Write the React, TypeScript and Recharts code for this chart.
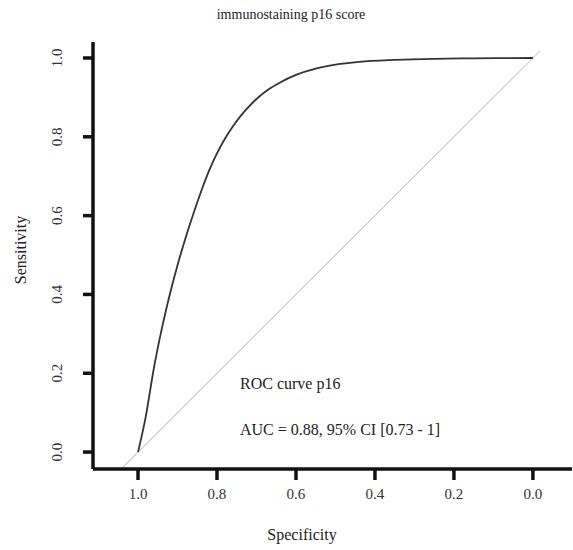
import React from "react";
import {
  LineChart,
  Line,
  XAxis,
  YAxis,
  ReferenceLine,
  Customized,
} from "recharts";

// ROC curve points (specificity descending)
const specificity = [1.0, 0.98, 0.96, 0.94, 0.92, 0.9, 0.88, 0.86, 0.84, 0.82, 0.8, 0.78, 0.76, 0.74, 0.72, 0.7, 0.67, 0.64, 0.6, 0.55, 0.5, 0.44, 0.35, 0.25, 0.15, 0.0];
const sensitivity = [0, 0.092, 0.212, 0.312, 0.398, 0.474, 0.542, 0.604, 0.662, 0.714, 0.758, 0.795, 0.826, 0.853, 0.876, 0.896, 0.92, 0.938, 0.957, 0.973, 0.983, 0.99, 0.995, 0.998, 0.999, 1.0];

const xTicks = [1.0, 0.8, 0.6, 0.4, 0.2, 0.0];
const yTicks = [0.0, 0.2, 0.4, 0.6, 0.8, 1.0];

const title = "immunostaining p16 score";
const curveLabel = "ROC curve p16";
const aucLabel = "AUC = 0.88, 95% CI [0.73 - 1]";

const data = specificity.map((s, i) => ({ spec: s, sens: sensitivity[i] }));

const FONT = "'Liberation Serif', serif";
const INK = "#111";

const XTick = (props: any) => {
  const { x, y, payload } = props;
  return (
    <text x={x} y={y + 17} textAnchor="middle" fontFamily={FONT} fontSize={15} fill="#333">
      {payload.value.toFixed(1)}
    </text>
  );
};

const YTick = (props: any) => {
  const { x, y, payload } = props;
  const cx = x - 19;
  return (
    <text
      x={cx}
      y={y}
      transform={`rotate(-90 ${cx} ${y})`}
      textAnchor="middle"
      fontFamily={FONT}
      fontSize={15}
      fill="#333"
    >
      {payload.value.toFixed(1)}
    </text>
  );
};

const Texts = () => (
  <g fontFamily={FONT} fill="#222">
    <text x={291} y={19} textAnchor="middle" fontSize={14}>{title}</text>
    <text x={302} y={540} textAnchor="middle" fontSize={16}>Specificity</text>
    <text x={26} y={250} textAnchor="middle" fontSize={16} transform="rotate(-90 26 250)">Sensitivity</text>
    <text x={240} y={389} fontSize={16}>{curveLabel}</text>
    <text x={240} y={435} fontSize={16}>{aucLabel}</text>
  </g>
);

export default function App() {
  return (
    <div style={{ position: "absolute", left: 0, top: 0, background: "#fff" }}>
      <LineChart width={573} height={550} data={data} margin={{ top: 42, right: 1, bottom: 0, left: 0 }}>
        <XAxis
          dataKey="spec"
          type="number"
          reversed
          domain={[-0.099, 1.114]}
          ticks={xTicks}
          allowDataOverflow
          height={81}
          axisLine={{ stroke: INK, strokeWidth: 3.5 }}
          tickLine={{ stroke: INK, strokeWidth: 3.5 }}
          tickSize={11}
          tick={<XTick />}
        />
        <YAxis
          type="number"
          domain={[-0.043, 1.0406]}
          ticks={yTicks}
          allowDataOverflow
          width={93}
          axisLine={{ stroke: INK, strokeWidth: 3.5 }}
          tickLine={{ stroke: INK, strokeWidth: 3.5 }}
          tickSize={10}
          tick={<YTick />}
        />
        <ReferenceLine
          segment={[{ x: 1.043, y: -0.043 }, { x: -0.018, y: 1.018 }]}
          stroke="#cfcfcf"
          strokeWidth={1.2}
          ifOverflow="visible"
        />
        <Line
          type="monotone"
          dataKey="sens"
          stroke="#333"
          strokeWidth={1.8}
          dot={false}
          isAnimationActive={false}
        />
        <Customized component={Texts} />
      </LineChart>
    </div>
  );
}
